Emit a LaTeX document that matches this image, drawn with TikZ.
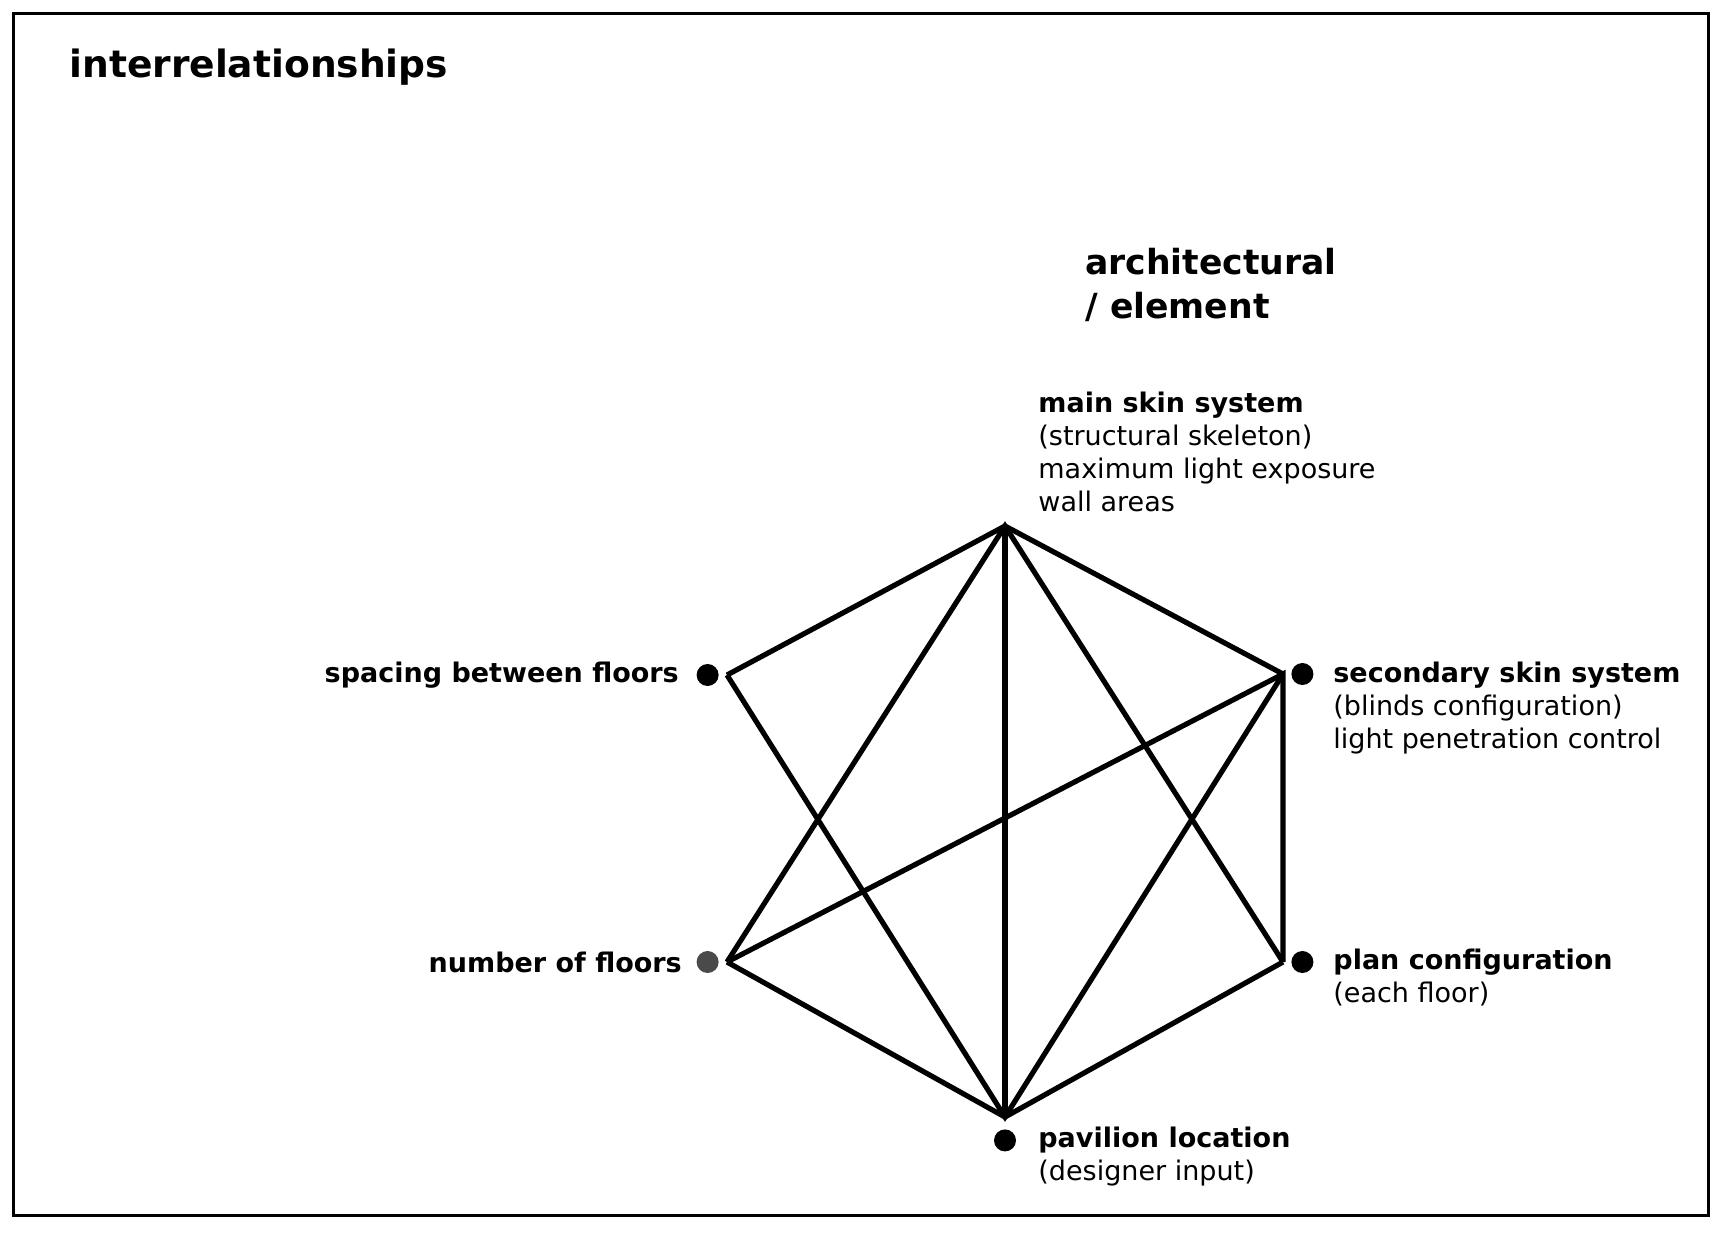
\documentclass[tikz,border=0pt]{standalone}
\usepackage{fontspec}
\setmainfont{DejaVu Sans}
\usepackage{tikz}
\usetikzlibrary{positioning}
\definecolor{ink}{HTML}{000000}
\definecolor{mute}{HTML}{4A4A4A}
\tikzset{
  frame/.style={draw=ink,line width=1.5pt},
  lnk/.style={draw=ink,line width=2.6pt,line join=miter},
  dot/.style={circle,fill=ink,inner sep=0pt,minimum size=11pt},
  lbl/.style={inner sep=0pt,align=left,font=\fontsize{13.5}{16.5}\selectfont,text=ink},
  ttl/.style={inner sep=0pt,align=left,font=\bfseries\fontsize{18.8}{22}\selectfont,text=ink}}

\begin{document}
\begin{tikzpicture}[x=0.5pt,y=-0.5pt]
\useasboundingbox (0,0) rectangle (1728,1232);
\draw[frame] (13,13) rectangle (1708,1215);
% titles
\node[ttl,anchor=base west] (title) at (69,77) {interrelationships};
\node[ttl,anchor=base west,font=\bfseries\fontsize{17.3}{22}\selectfont] (arch) at (1085,318) {architectural\\/ element};
% corners of the hexagon
\coordinate (t) at (1005,526);
\coordinate (sl) at (727,675);
\coordinate (nf) at (727,962);
\coordinate (b) at (1005,1117);
\coordinate (sr) at (1283,674);
\coordinate (pr) at (1283,962);
% dots
\node[dot,left=4pt of sl] (dsl) {};
\node[dot,left=4pt of nf,fill=mute] (dnf) {};
\node[dot,below=6pt of b] (db) {};
\node[dot,right=4pt of sr] (dsr) {};
\node[dot,right=4pt of pr] (dpr) {};
% labels
\node[lbl,font=\bfseries\fontsize{13.5}{16.5}\selectfont,left=8.5pt of dsl] (spacing) {spacing between floors};
\node[lbl,font=\bfseries\fontsize{13.5}{16.5}\selectfont,left=7pt of dnf] (floors) {number of floors};
\node[lbl,anchor=base west] (main) at (1038,511) {\textbf{main skin system}\\(structural skeleton)\\maximum light exposure\\wall areas};
\node[lbl,anchor=base west] (second) at (1333,748) {\textbf{secondary skin system}\\(blinds configuration)\\light penetration control};
\node[lbl,anchor=base west] (plan) at (1333,1002) {\textbf{plan configuration}\\(each floor)};
\node[lbl,anchor=base west] (pavilion) at (1038,1180) {\textbf{pavilion location}\\(designer input)};
% relations
\draw[lnk] (sl) -- (t) -- (sr);
\draw[lnk] (nf) -- (t) -- (pr);
\draw[lnk] (t) -- (b);
\draw[lnk] (sl) -- (b) -- (sr);
\draw[lnk] (nf) -- (b) -- (pr);
\draw[lnk] (nf) -- (sr) -- (pr);
\end{tikzpicture}
\end{document}
